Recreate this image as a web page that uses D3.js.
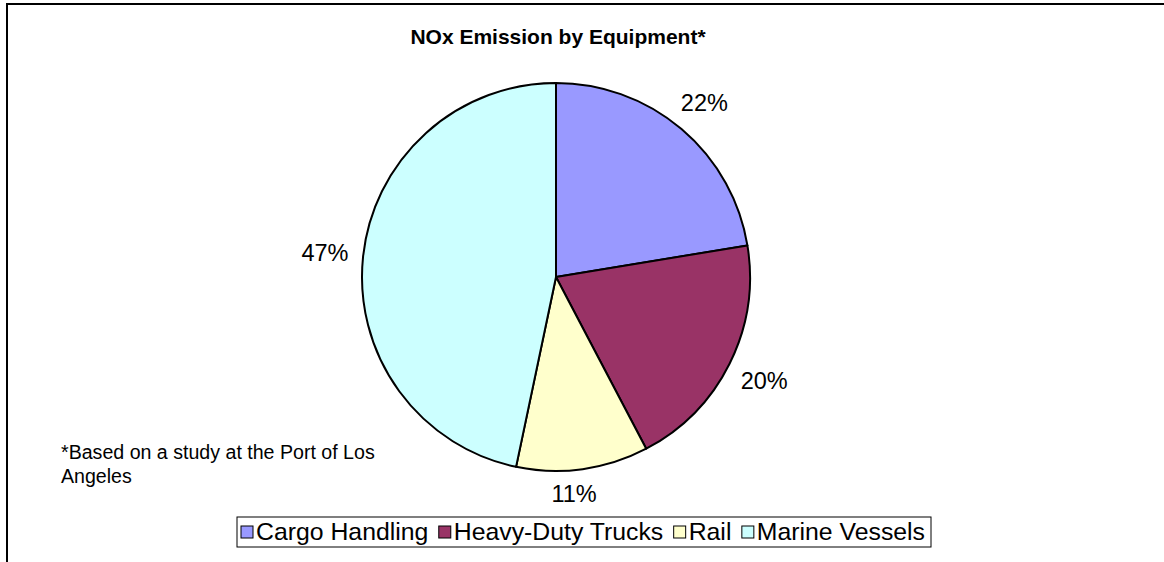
<!DOCTYPE html>
<html lang="en">
    <head>
        <meta charset="utf-8">
        <title>NOx Emission by Equipment</title>
        <script src="https://cdnjs.cloudflare.com/ajax/libs/d3/7.8.5/d3.min.js"></script>
        <style>
        body{ margin:0; background:#fff; }
        svg{ display:block; font-family:"Liberation Sans", Arial, sans-serif; }
        </style>
    </head>
    <body>
        <script type="text/javascript">
        // data
        var categories = ["Cargo Handling", "Heavy-Duty Trucks", "Rail", "Marine Vessels"];
        var shares = [22.4, 19.9, 11.0, 46.7];
        var sliceColors = ["#9999FF", "#993366", "#FFFFCC", "#CCFFFF"];
        var titleText = "NOx Emission by Equipment*";
        var noteLines = ["*Based on a study at the Port of Los", "Angeles"];

        let w = 1164;
        let h = 562;
        let cx = 556, cy = 277, r = 194;

        var svg = d3.select("body")
            .append("svg")
            .attr("width", w)
            .attr("height", h);

        // frame (only left and top edges show)
        svg.append("path")
            .attr("d", "M7," + h + "V4H" + w)
            .attr("fill", "none")
            .attr("stroke", "#000")
            .attr("stroke-width", 2);

        function addText(x, y, str, size, anchor, weight){
            return svg.append("text")
                .attr("x", x)
                .attr("y", y)
                .attr("text-anchor", anchor)
                .attr("font-size", size)
                .attr("font-weight", weight || "normal")
                .attr("fill", "#000")
                .text(str);
        }

        addText(558, 44, titleText, 21, "middle", "bold");

        var pie = d3.pie().sort(null).value(function(d){ return d; });
        var arc = d3.arc().innerRadius(0).outerRadius(r);
        var arcs = pie(shares);

        var chart = svg.append("g").attr("transform", "translate(" + cx + "," + cy + ")");
        chart.selectAll("path.slice")
            .data(arcs)
            .enter()
            .append("path")
            .attr("class", "slice")
            .attr("d", arc)
            .attr("fill", function(d, i){ return sliceColors[i]; })
            .attr("stroke", "#000")
            .attr("stroke-width", 2)
            .attr("stroke-linejoin", "round");

        // percent labels outside each slice
        arcs.forEach(function(d){
            var a = (d.startAngle + d.endAngle) / 2;
            var t = addText(0, 0, Math.round(d.value) + "%", 23.5, "middle");
            var hw = t.node().getComputedTextLength() / 2;
            var hh = 8;
            var dist = r + 14 + Math.abs(Math.sin(a)) * hw + Math.abs(Math.cos(a)) * hh;
            var x = cx + dist * Math.sin(a) * (Math.cos(a) < -0.9 ? 0.6 : 1);
            var y = cy - dist * Math.cos(a) + 8.5;
            t.attr("x", x).attr("y", y);
        });

        // footnote
        noteLines.forEach(function(s, i){
            addText(61, 459 + i * 24, s, 19.6, "start");
        });

        // legend: items spread to fill the box
        var legend = svg.append("g");
        var boxX = 237, boxW = 694;
        legend.append("rect")
            .attr("x", boxX).attr("y", 517)
            .attr("width", boxW).attr("height", 30)
            .attr("fill", "#fff")
            .attr("stroke", "#000")
            .attr("stroke-width", 1);
        var items = categories.map(function(c, i){
            var g = legend.append("g");
            g.append("rect")
                .attr("y", 526)
                .attr("width", 12).attr("height", 12)
                .attr("fill", sliceColors[i])
                .attr("stroke", "#000")
                .attr("stroke-width", 1);
            var t = g.append("text")
                .attr("y", 540)
                .attr("font-size", 24.8)
                .attr("fill", "#000")
                .text(c);
            return { g: g, w: 15 + t.node().getComputedTextLength() };
        });
        var total = d3.sum(items, function(d){ return d.w; });
        var gap = (boxW - 4 - 6 - total) / (items.length - 1);
        var lx = boxX + 4;
        items.forEach(function(it){
            it.g.select("rect").attr("x", lx);
            it.g.select("text").attr("x", lx + 15);
            lx = lx + it.w + gap;
        });
        </script>
    </body>
</html>
